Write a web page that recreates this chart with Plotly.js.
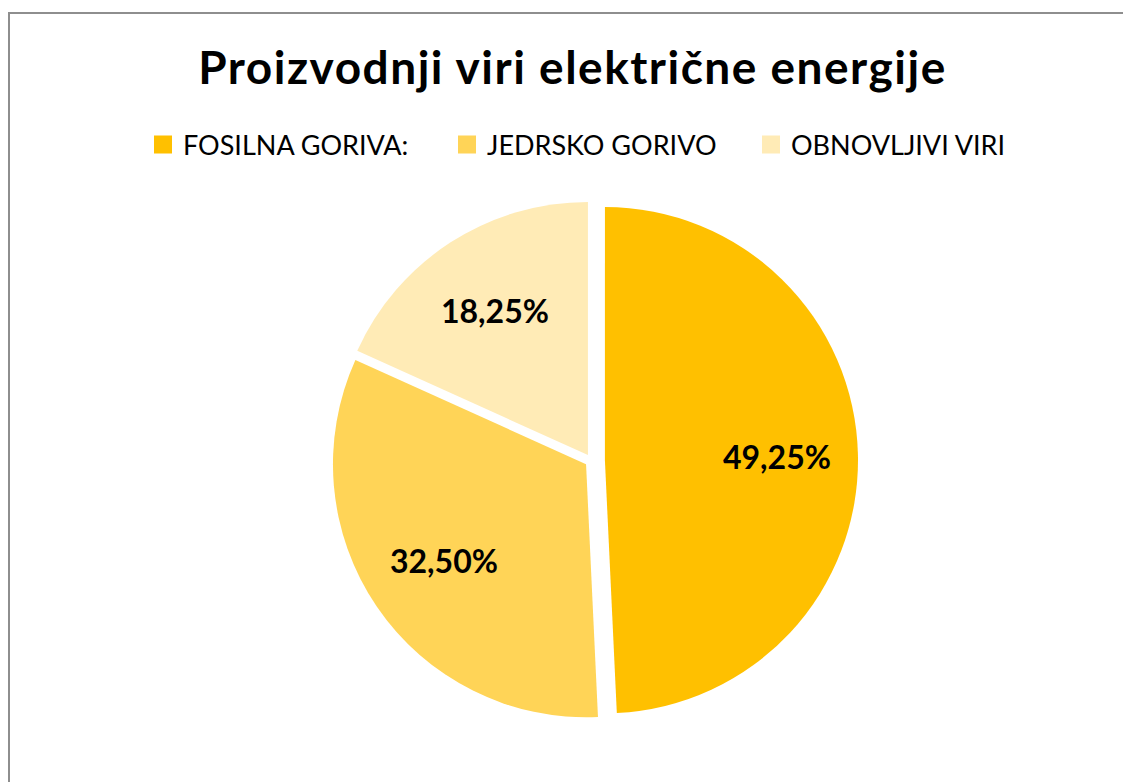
<!DOCTYPE html>
<html>
<head>
<meta charset="utf-8">
<script src="https://cdn.plot.ly/plotly-3.0.1.min.js"></script>
<style>
  html, body { margin: 0; padding: 0; background: #ffffff; }
  #chart { position: absolute; left: 0; top: 0; width: 1123px; height: 782px; }
  #frame { position: absolute; left: 8px; top: 12px; width: 1200px; height: 900px;
           border-left: 2px solid #8e8e8e; border-top: 2px solid #8e8e8e; pointer-events: none; z-index: 5; }
  .legend .legendpoints path.legendpie { transform: translate(20px, 0px) scale(1.5); }
  .gtitle { letter-spacing: 1.5px; }
</style>
</head>
<body>
<div id="chart"></div>
<div id="frame"></div>
<script>
// ---- data ----
var categories = ['FOSILNA GORIVA:', 'JEDRSKO GORIVO', 'OBNOVLJIVI VIRI'];
var shares = [49.25, 32.50, 18.25];
var sliceColors = ['#FFC000', '#FFD457', '#FFEBB6'];
var pulls = [0.053, 0.026, 0.026];
var chartTitle = 'Proizvodnji viri električne energije';

// ---- layout constants ----
var W = 1123, H = 782;
var M = { l: 60, r: 0, t: 194, b: 55 };
var labelRadius = 0.68; // fraction of pie radius where the data labels sit

// pie geometry as Plotly computes it (domain = whole plot area)
var plotW = W - M.l - M.r, plotH = H - M.t - M.b;
var maxPull = Math.max.apply(null, pulls);
var rPx = Math.min(plotW, plotH) / (2 + 2 * maxPull);

// data labels placed on each slice bisector, derived from the shares
var total = shares.reduce(function (a, b) { return a + b; }, 0);
var annotations = [];
var cum = 0;
shares.forEach(function (v, i) {
  var mid = (cum + v / 2) / total * 2 * Math.PI; // clockwise from 12 o'clock
  cum += v;
  var dist = (pulls[i] + labelRadius) * rPx;
  var dx = Math.sin(mid) * dist, dy = Math.cos(mid) * dist;
  var txt = (v / total * 100).toFixed(2).replace('.', ',') + '%';
  annotations.push({
    xref: 'paper', yref: 'paper',
    x: 0.5 + dx / plotW, y: 0.5 + dy / plotH,
    xanchor: 'center', yanchor: 'middle',
    text: '<b>' + txt + '</b>', showarrow: false,
    font: { family: 'Lato', size: 32, color: '#000000' }
  });
});

var trace = {
  type: 'pie',
  labels: categories,
  values: shares,
  sort: false,
  direction: 'clockwise',
  rotation: 0,
  pull: pulls,
  marker: { colors: sliceColors, line: { color: '#ffffff', width: 0 } },
  textinfo: 'none',
  hoverinfo: 'none',
  domain: { x: [0, 1], y: [0, 1] }
};

var layout = {
  width: W,
  height: H,
  separators: ',.',
  paper_bgcolor: '#ffffff',
  plot_bgcolor: '#ffffff',
  margin: M,
  title: {
    text: '<b>' + chartTitle + '</b>',
    font: { family: 'Lato', size: 46, color: '#000000' },
    xref: 'container', x: 572.5 / W, xanchor: 'center',
    yref: 'container', y: 1 - 68 / H, yanchor: 'middle'
  },
  showlegend: true,
  legend: {
    orientation: 'h',
    xref: 'container', x: 143 / W, xanchor: 'left',
    yref: 'container', y: 1 - 145 / H, yanchor: 'middle',
    font: { family: 'Lato', size: 27, color: '#000000' },
    traceorder: 'normal',
    entrywidth: 259,
    entrywidthmode: 'pixels',
    bgcolor: 'rgba(0,0,0,0)'
  },
  annotations: annotations
};

Plotly.newPlot('chart', [trace], layout, { displayModeBar: false, staticPlot: true });
</script>
</body>
</html>
